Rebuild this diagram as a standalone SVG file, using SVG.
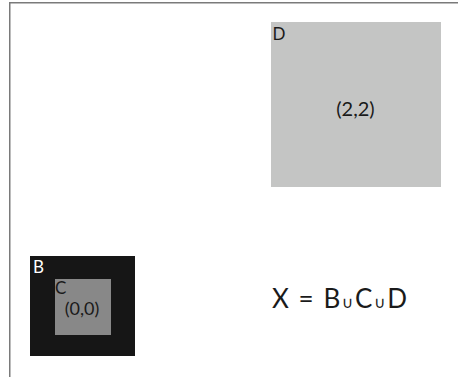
<svg xmlns="http://www.w3.org/2000/svg" width="459" height="377" viewBox="0 0 459 377">
<style>
text{font-family:Lato,"Open Sans","DejaVu Sans",sans-serif}
.frame{fill:none;stroke:#7a7a7a;stroke-width:1.5}
.lbl{font-size:17px}
</style>
<rect width="459" height="377" fill="#fff"/>
<path class="frame" d="M9.75 377 V2.75 H458"/>
<g id="D">
<rect x="271" y="22" width="170" height="165" fill="#c4c5c4"/>
<text class="lbl" x="272.5" y="40" fill="#1a1a1a">D</text>
<text x="355.5" y="116" font-size="20" text-anchor="middle" fill="#1a1a1a">(2,2)</text>
</g>
<g id="B">
<rect x="30" y="256" width="105" height="100" fill="#161616"/>
<text class="lbl" x="33" y="273" fill="#fff">B</text>
</g>
<g id="C">
<rect x="55" y="279" width="56" height="56" fill="#888"/>
<text class="lbl" x="55" y="294" fill="#1a1a1a">C</text>
<text x="82" y="315" font-size="18" text-anchor="middle" fill="#1a1a1a">(0,0)</text>
</g>
<g id="connectors"/>
<g id="formula">
<text x="272" y="308" font-size="26" fill="#1a1a1a" textLength="135" lengthAdjust="spacing">X = B<tspan font-size="16">∪</tspan>C<tspan font-size="16">∪</tspan>D</text>
</g>
</svg>
